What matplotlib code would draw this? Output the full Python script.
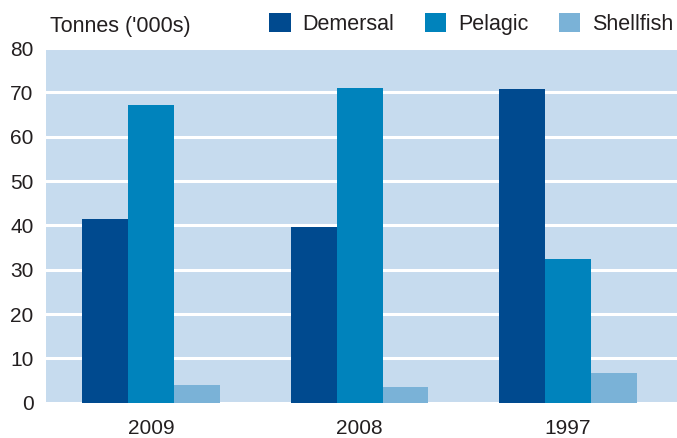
import matplotlib
matplotlib.use("Agg")
import matplotlib.pyplot as plt
import numpy as np

# data
years = ["2009", "2008", "1997"]
demersal = [41.5, 39.7, 70.7]
pelagic = [67.1, 71.0, 32.4]
shellfish = [4.1, 3.6, 6.8]
series_names = ["Demersal", "Pelagic", "Shellfish"]
colors = ["#004a8f", "#0083bc", "#7ab2d7"]
yticks = [0, 10, 20, 30, 40, 50, 60, 70, 80]

plt.rcParams["font.family"] = ["Liberation Sans", "DejaVu Sans"]
text_color = "#231f20"

fig = plt.figure(figsize=(6.77, 4.38), dpi=100)
ax = fig.add_axes([46 / 677, 1 - 402.7 / 438, 1 - 46 / 677, (402.7 - 48) / 438])
ax.set_facecolor("#c6dbee")

x = np.arange(len(years))
w = 0.2206
for i, (vals, name, c) in enumerate(zip([demersal, pelagic, shellfish], series_names, colors)):
    ax.bar(x + (i - 1) * w, vals, width=w, color=c, label=name, zorder=3, linewidth=0)

ax.set_xlim(-0.504, 2.523)
ax.set_ylim(0, 80)
ax.set_yticks(yticks)
ax.set_xticks(x)
ax.set_xticklabels(years)
ax.yaxis.grid(True, color="white", linewidth=2.2, zorder=1)
ax.set_axisbelow(True)
for s in ax.spines.values():
    s.set_visible(False)
ax.tick_params(axis="both", length=0, labelsize=15, colors=text_color)
ax.tick_params(axis="y", pad=9)
ax.tick_params(axis="x", pad=12)

fig.text(50 / 677, 1 - 32 / 438, "Tonnes ('000s)", fontsize=15.5, color=text_color,
         ha="left", va="baseline")

# legend row sits level with the unit label
fig.legend(loc="upper left", bbox_to_anchor=(269 / 677, 1 - 13 / 438), ncol=3,
           frameon=False, fontsize=15.5, handlelength=1.0, handleheight=1.0,
           handletextpad=0.56, columnspacing=1.4, borderpad=0, borderaxespad=0,
           labelcolor=text_color)

fig.savefig("out.png", dpi=100)
